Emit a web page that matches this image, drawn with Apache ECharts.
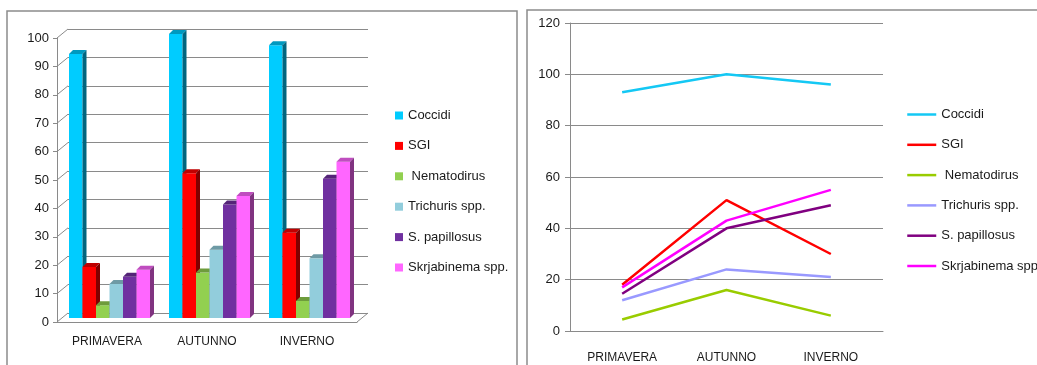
<!DOCTYPE html>
<html>
<head>
<meta charset="utf-8">
<script src="https://cdn.jsdelivr.net/npm/echarts@6/dist/echarts.min.js"></script>
<style>
  html, body { margin: 0; padding: 0; background: #fff; }
  #barChart { position: absolute; left: 0; top: 0; width: 522px; height: 365px; }
  #lineChart { position: absolute; left: 522px; top: 0; width: 515px; height: 365px; }
</style>
</head>
<body>
<div id="barChart"></div>
<div id="lineChart"></div>
<script>
// stagioni e parassiti
const seasons = ["PRIMAVERA", "AUTUNNO", "INVERNO"];
const parasites = ["Coccidi", "SGI", " Nematodirus", "Trichuris spp.", "S. papillosus", "Skrjabinema spp."];

// valori (%) per stagione
const coccidi = [93, 100, 96];
const sgi = [18, 51, 30];
const nematodirus = [4.5, 16, 6];
const trichuris = [12, 24, 21];
const papillosus = [14.5, 40, 49];
const skrjabinema = [17, 43, 55];
const values = [coccidi, sgi, nematodirus, trichuris, papillosus, skrjabinema];

const barTicks = [0, 10, 20, 30, 40, 50, 60, 70, 80, 90, 100];
const lineTicks = [0, 20, 40, 60, 80, 100, 120];

const barColors = ["#00ccff", "#ff0000", "#92d050", "#92cddc", "#7030a0", "#ff66ff"];
const lineColors = ["#14c8f4", "#ff0000", "#99cc00", "#9999ff", "#800080", "#ff00ff"];

const FONT = "'Liberation Sans', Arial, sans-serif";
const WALL = [11, -9];      // profondita' del fondo
const BAR_SHIFT = [2.5, -4];
const BAR_DEPTH = 4;
const GROUP = 0.81;

function shade(hex, f) {
  const n = parseInt(hex.slice(1), 16);
  const r = Math.round(((n >> 16) & 255) * f);
  const g = Math.round(((n >> 8) & 255) * f);
  const b = Math.round((n & 255) * f);
  return "rgb(" + r + "," + g + "," + b + ")";
}

function barItem(k) {
  return function (params, api) {
    const i = api.value(0);
    const base = api.coord([i, 0]);
    const top = api.coord([i, api.value(1)]);
    const band = api.size([1, 0])[0];
    const w = (band * GROUP) / parasites.length;
    const x = base[0] - (band * GROUP) / 2 + k * w + BAR_SHIFT[0];
    const yb = base[1] + BAR_SHIFT[1];
    const yt = top[1] + BAR_SHIFT[1];
    const d = BAR_DEPTH;
    const c = barColors[k];
    return {
      type: "group",
      children: [
        { type: "rect", shape: { x: x, y: yt, width: w, height: yb - yt }, style: { fill: c } },
        { type: "polygon", shape: { points: [[x, yt], [x + d, yt - d], [x + w + d, yt - d], [x + w, yt]] }, style: { fill: shade(c, 0.75) } },
        { type: "polygon", shape: { points: [[x + w, yt], [x + w + d, yt - d], [x + w + d, yb - d], [x + w, yb]] }, style: { fill: shade(c, 0.5) } },
      ],
    };
  };
}

// pareti laterali e pavimento
function wallItem(params, api) {
  const cs = params.coordSys;
  const v = api.value(1);
  const y = api.coord([0, v])[1];
  const st = { stroke: "#8a8a8a", lineWidth: 1 };
  const lines = [{ type: "line", shape: { x1: cs.x, y1: y, x2: cs.x + WALL[0], y2: y + WALL[1] }, style: st }];
  if (v === 0) {
    lines.push({ type: "line", shape: { x1: cs.x + cs.width, y1: y, x2: cs.x + cs.width + WALL[0], y2: y + WALL[1] }, style: st });
  }
  return { type: "group", children: lines };
}

function Bars() {
  const chart = echarts.init(document.getElementById("barChart"));
  const series = parasites.map((name, k) => ({
    name: name,
    type: "custom",
    xAxisIndex: 0,
    yAxisIndex: 0,
    itemStyle: { color: barColors[k] },
    renderItem: barItem(k),
    encode: { x: 0, y: 1 },
    data: seasons.map((s, i) => [i, values[k][i]]),
    z: 3,
  }));
  series.push({
    type: "custom",
    xAxisIndex: 0,
    yAxisIndex: 0,
    silent: true,
    renderItem: wallItem,
    encode: { x: 0, y: 1 },
    data: barTicks.map((t) => [0, t]),
    z: 1,
  });
  chart.setOption({
    animation: false,
    textStyle: { fontFamily: FONT },
    graphic: [
      { type: "rect", shape: { x: 7, y: 11, width: 510, height: 400 }, style: { fill: null, stroke: "#8c8c8c", lineWidth: 1.5 } },
    ],
    legend: {
      orient: "vertical",
      left: 390,
      top: 104,
      icon: "rect",
      itemWidth: 8,
      itemHeight: 8,
      itemGap: 17.4,
      selectedMode: false,
      textStyle: { fontSize: 13, color: "#1a1a1a", fontFamily: FONT },
      data: parasites,
    },
    grid: [
      { left: 57, top: 38, width: 300, height: 284 },
      { left: 57 + WALL[0], top: 38 + WALL[1], width: 300, height: 284 },
    ],
    xAxis: [
      {
        type: "category",
        gridIndex: 0,
        data: seasons,
        axisLine: { lineStyle: { color: "#8a8a8a" } },
        axisTick: { length: 4, lineStyle: { color: "#8a8a8a" } },
        axisLabel: { fontSize: 12, color: "#1a1a1a", margin: 14 },
      },
      { type: "category", gridIndex: 1, data: seasons, show: false },
    ],
    yAxis: [
      {
        type: "value",
        gridIndex: 0,
        min: 0,
        max: 100,
        interval: 10,
        axisLine: { show: true, lineStyle: { color: "#8a8a8a" } },
        axisTick: { show: true, length: 4, lineStyle: { color: "#8a8a8a" } },
        axisLabel: { fontSize: 13, color: "#1a1a1a", margin: 8 },
        splitLine: { show: false },
      },
      {
        type: "value",
        gridIndex: 1,
        min: 0,
        max: 100,
        interval: 10,
        axisLine: { show: false },
        axisTick: { show: false },
        axisLabel: { show: false },
        splitLine: { lineStyle: { color: "#8a8a8a", width: 1 } },
      },
    ],
    series: series,
  });
}

function Lines() {
  const chart = echarts.init(document.getElementById("lineChart"));
  chart.setOption({
    animation: false,
    textStyle: { fontFamily: FONT },
    graphic: [
      { type: "rect", shape: { x: 5, y: 10, width: 600, height: 400 }, style: { fill: null, stroke: "#8c8c8c", lineWidth: 1.5 } },
    ],
    legend: {
      orient: "vertical",
      left: 379,
      top: 103,
      itemWidth: 29,
      itemHeight: 12,
      itemGap: 17.3,
      selectedMode: false,
      itemStyle: { opacity: 0 },
      lineStyle: { width: 2.5 },
      textStyle: { fontSize: 13, color: "#1a1a1a", fontFamily: FONT },
      data: parasites,
    },
    grid: { left: 48, top: 23, width: 313, height: 308 },
    xAxis: {
      type: "category",
      data: seasons,
      axisLine: { lineStyle: { color: "#8a8a8a" } },
      axisTick: { length: 5, lineStyle: { color: "#8a8a8a" } },
      axisLabel: { fontSize: 12, color: "#1a1a1a", margin: 21 },
    },
    yAxis: {
      type: "value",
      min: lineTicks[0],
      max: lineTicks[lineTicks.length - 1],
      interval: 20,
      axisLine: { show: true, lineStyle: { color: "#8a8a8a" } },
      axisTick: { show: true, length: 5, lineStyle: { color: "#8a8a8a" } },
      axisLabel: { fontSize: 13, color: "#1a1a1a", margin: 10 },
      splitLine: { lineStyle: { color: "#8a8a8a", width: 1 } },
    },
    series: parasites.map((name, k) => ({
      name: name,
      type: "line",
      symbol: "none",
      color: lineColors[k],
      lineStyle: { width: 2.5, color: lineColors[k] },
      data: values[k],
    })),
  });
}

Bars();
Lines();
</script>
</body>
</html>
